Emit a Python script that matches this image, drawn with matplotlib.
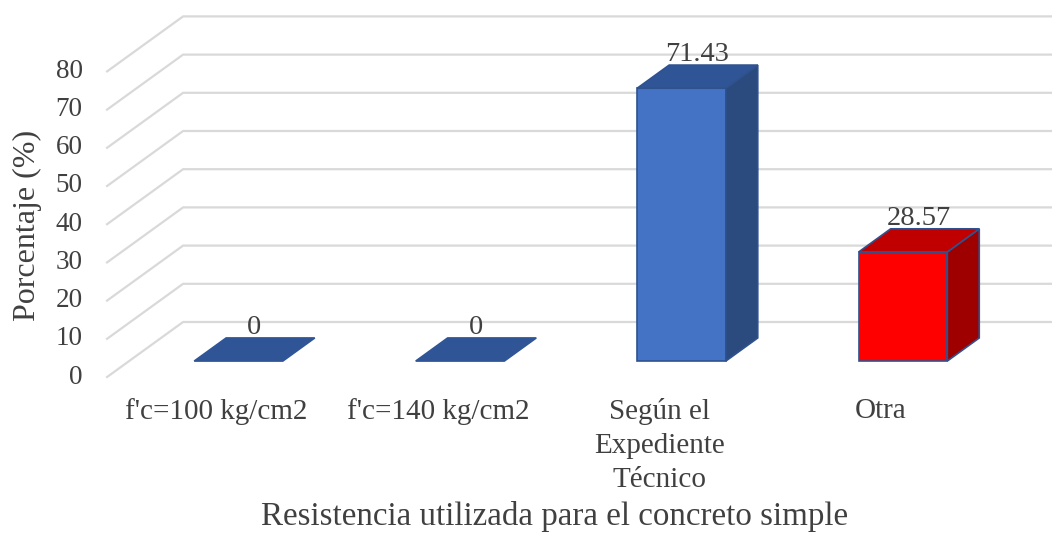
import matplotlib.pyplot as plt
from matplotlib.patches import Polygon

plt.rcParams['font.family'] = ['Liberation Serif', 'DejaVu Serif']

# data
categories = ["f'c=100 kg/cm2", "f'c=140 kg/cm2", "Según el\nExpediente\nTécnico", "Otra"]
values = [0, 0, 71.43, 28.57]
value_labels = ["0", "0", "71.43", "28.57"]
y_ticks = [0, 10, 20, 30, 40, 50, 60, 70, 80]

front_colors = ['#4472C4', '#4472C4', '#4472C4', '#FF0000']
top_colors = ['#2F5597', '#2F5597', '#2F5597', '#C00000']
side_colors = ['#2B4A7E', '#2B4A7E', '#2B4A7E', '#9E0000']
edge_color = '#2F528F'
text_color = '#404040'

W, H = 1052, 535
fig = plt.figure(figsize=(W / 100, H / 100), dpi=100)
ax = fig.add_axes([0, 0, 1, 1])

# pixel layout of the front plane: category i at x0 + dxc*i, value v at y0 + sy*v
x0, dxc = 216.5, 221.5
y0, sy = 535 - 377, 3.82
ax.set_xlim(-x0 / dxc, (W - x0) / dxc)
ax.set_ylim(-y0 / sy, (H - y0) / sy)
ax.axis('off')

# oblique depth vector (full floor depth) in data units
DX = 76 / dxc
DY = 55 / sy


def proj(x, v, d):
    return (x + d * DX, v + d * DY)


left = -0.494
right = (W + 5 - x0) / dxc
grid_c = '#D9D9D9'
for t in y_ticks:
    xa, ya = proj(left, t, 0)
    xb, yb = proj(left, t, 1)
    ax.plot([xa, xb, right], [ya, yb, yb], color=grid_c, lw=1.6,
            solid_joinstyle='round', zorder=1)
    ax.text(xa - 0.11, ya, str(t), ha='right', va='center',
            fontsize=19.5, color=text_color)

bw = 0.40
d0, d1 = 0.29, 0.71
for i, v in enumerate(values):
    fl = proj(i - bw / 2, 0, d0)
    fr = proj(i + bw / 2, 0, d0)
    bl = proj(i - bw / 2, 0, d1)
    br = proj(i + bw / 2, 0, d1)
    if v > 0:
        front = [fl, fr, (fr[0], fr[1] + v), (fl[0], fl[1] + v)]
        side = [fr, br, (br[0], br[1] + v), (fr[0], fr[1] + v)]
        ax.add_patch(Polygon(front, closed=True, fc=front_colors[i],
                             ec=edge_color, lw=1.2, zorder=3))
        ax.add_patch(Polygon(side, closed=True, fc=side_colors[i],
                             ec=edge_color, lw=1.2, zorder=3))
    top = [(fl[0], fl[1] + v), (fr[0], fr[1] + v),
           (br[0], br[1] + v), (bl[0], bl[1] + v)]
    ax.add_patch(Polygon(top, closed=True, fc=top_colors[i],
                         ec=edge_color if v > 0 else top_colors[i],
                         lw=1.2, zorder=3))
    cx, cy = proj(i, v, d1)
    ax.text(cx - 0.5 * (d1 - d0) * DX, cy - 0.6, value_labels[i],
            ha='center', va='bottom', fontsize=20.5, color=text_color,
            zorder=4)

for i, lab in enumerate(categories):
    ax.text(i, -5.6, lab, ha='center', va='top', fontsize=21,
            color=text_color, linespacing=1.38)

ax.text((555 - x0) / dxc, (535 - 517 - y0) / sy,
        'Resistencia utilizada para el concreto simple',
        ha='center', va='center', fontsize=23.8, color=text_color)
ax.text((27 - x0) / dxc, (535 - 225 - y0) / sy, 'Porcentaje (%)',
        ha='center', va='center', rotation=90, fontsize=23, color=text_color)

fig.savefig('out.png', dpi=100)
